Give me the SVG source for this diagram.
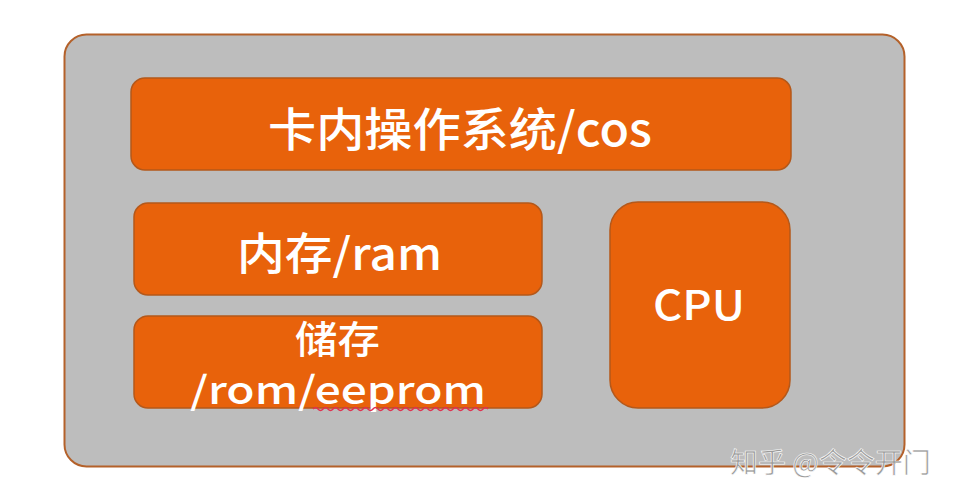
<svg xmlns="http://www.w3.org/2000/svg" width="963" height="501" viewBox="0 0 963 501">
<style>
.box{fill:#e8620b;stroke:#b4581a;stroke-width:1.5}
.t{fill:#ffffff;font-family:"Noto Sans CJK SC","Liberation Sans",sans-serif;font-weight:500}
</style>
<rect width="963" height="501" fill="#ffffff"/>
<g id="outer">
<rect x="64.500" y="34.500" width="840" height="432" rx="22" fill="#bdbdbd" stroke="#b4612a" stroke-width="2"/>
</g>
<g id="cos">
<rect class="box" x="131" y="78" width="660" height="92" rx="14"/>
<text class="t" x="268" y="146" font-size="46" textLength="384" lengthAdjust="spacingAndGlyphs">卡内操作系统/cos</text>
</g>
<g id="ram">
<rect class="box" x="134" y="203" width="408" height="92" rx="14"/>
<text class="t" x="237" y="270" font-size="44" textLength="205" lengthAdjust="spacingAndGlyphs">内存/ram</text>
</g>
<g id="storage">
<rect class="box" x="134" y="316" width="408" height="92" rx="14"/>
<text class="t" x="295" y="353" font-size="38" textLength="85" lengthAdjust="spacingAndGlyphs">储存</text>
<text class="t" x="190" y="404" font-size="38" font-weight="400" textLength="296" lengthAdjust="spacingAndGlyphs">/rom/eeprom</text>
<path d="M313 409 q2.500 -3 5 0 t5 0 t5 0 t5 0 t5 0 t5 0 t5 0 t5 0 t5 0 t5 0 t5 0 t5 0 t5 0 t5 0 t5 0 t5 0 t5 0 t5 0 t5 0 t5 0 t5 0 t5 0 t5 0 t5 0 t5 0 t5 0 t5 0 t5 0 t5 0 t5 0 t5 0 t5 0 t5 0 t5 0 t5 0" fill="none" stroke="#e03050" stroke-width="1.5"/>
</g>
<g id="cpu">
<rect class="box" x="610" y="202" width="180" height="206" rx="28"/>
<text class="t" x="653" y="320" font-size="41" textLength="92" lengthAdjust="spacingAndGlyphs">CPU</text>
</g>
<g id="watermark">
<text x="730" y="473" font-size="28" font-family="'Noto Sans CJK SC',sans-serif" fill="#9a9a9a" stroke="#ffffff" stroke-width="0.6">知乎 @令令开门</text>
</g>
<g id="connectors"></g>
</svg>
